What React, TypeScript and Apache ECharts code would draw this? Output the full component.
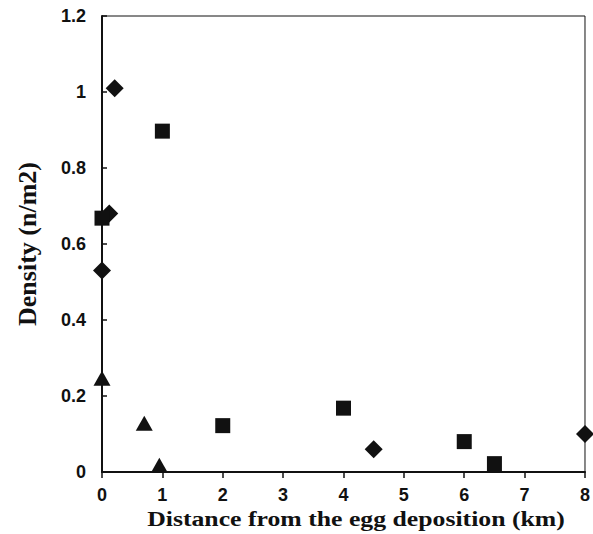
import React, { useEffect, useRef } from "react";
import * as echarts from "echarts";

const diamondData: [number, number][] = [
  [0.21, 1.01],
  [0.12, 0.68],
  [0.0, 0.53],
  [4.5, 0.06],
  [8.0, 0.1],
];
const squareData: [number, number][] = [
  [0.0, 0.668],
  [1.0, 0.897],
  [2.0, 0.122],
  [4.0, 0.168],
  [6.0, 0.08],
  [6.5, 0.022],
];
const triangleData: [number, number][] = [
  [0.0, 0.247],
  [0.7, 0.128],
  [0.95, 0.018],
];

const xTitle = "Distance from the egg deposition (km)";
const yTitle = "Density (n/m2)";

export default function App() {
  const ref = useRef<HTMLDivElement>(null);
  useEffect(() => {
    if (!ref.current) return;
    const chart = echarts.init(ref.current, undefined, { renderer: "svg" });
    const tickFont = {
      fontFamily: "Liberation Sans, Arial, sans-serif",
      fontWeight: "bold" as const,
      fontSize: 18,
      color: "#111",
    };
    const markStyle = { color: "#111", opacity: 1 };
    chart.setOption({
      animation: false,
      backgroundColor: "#ffffff",
      grid: {
        left: 102,
        right: 5,
        top: 16,
        bottom: 62,
        show: true,
        borderColor: "#111",
        borderWidth: 1,
        backgroundColor: "transparent",
      },
      xAxis: {
        type: "value",
        min: 0,
        max: 8,
        interval: 1,
        axisLine: { show: true, onZero: false, lineStyle: { color: "#111", width: 2 } },
        axisTick: { show: true, inside: false, length: 6, lineStyle: { color: "#111", width: 1.5 } },
        axisLabel: { ...tickFont, margin: 14 },
        splitLine: { show: false },
      },
      yAxis: {
        type: "value",
        min: 0,
        max: 1.2,
        interval: 0.2,
        axisLine: { show: true, onZero: false, lineStyle: { color: "#111", width: 2 } },
        axisTick: { show: true, inside: true, length: 5, lineStyle: { color: "#111", width: 1.5 } },
        axisLabel: { ...tickFont, margin: 16 },
        splitLine: { show: false },
      },
      graphic: [
        {
          type: "text",
          x: 356,
          y: 519,
          scaleX: 1.17,
          style: {
            text: xTitle,
            fontFamily: "Liberation Serif, Times New Roman, serif",
            fontWeight: "bold",
            fontSize: 22,
            fill: "#111",
            align: "center",
            verticalAlign: "middle",
          },
        },
        {
          type: "text",
          x: 27,
          y: 244,
          rotation: Math.PI / 2,
          style: {
            text: yTitle,
            fontFamily: "Liberation Serif, Times New Roman, serif",
            fontWeight: "bold",
            fontSize: 26,
            fill: "#111",
            align: "center",
            verticalAlign: "middle",
          },
        },
      ],
      series: [
        {
          type: "scatter",
          data: diamondData,
          symbol: "diamond",
          symbolSize: [18, 18],
          itemStyle: markStyle,
          clip: false,
        },
        {
          type: "scatter",
          data: squareData,
          symbol: "rect",
          symbolSize: [15, 15],
          itemStyle: markStyle,
          clip: false,
        },
        {
          type: "scatter",
          data: triangleData,
          symbol: "triangle",
          symbolSize: [17, 15],
          itemStyle: markStyle,
          clip: false,
        },
      ],
    });
    return () => chart.dispose();
  }, []);
  return (
    <div
      ref={ref}
      style={{ position: "fixed", left: 0, top: 0, width: 593, height: 534 }}
    />
  );
}
